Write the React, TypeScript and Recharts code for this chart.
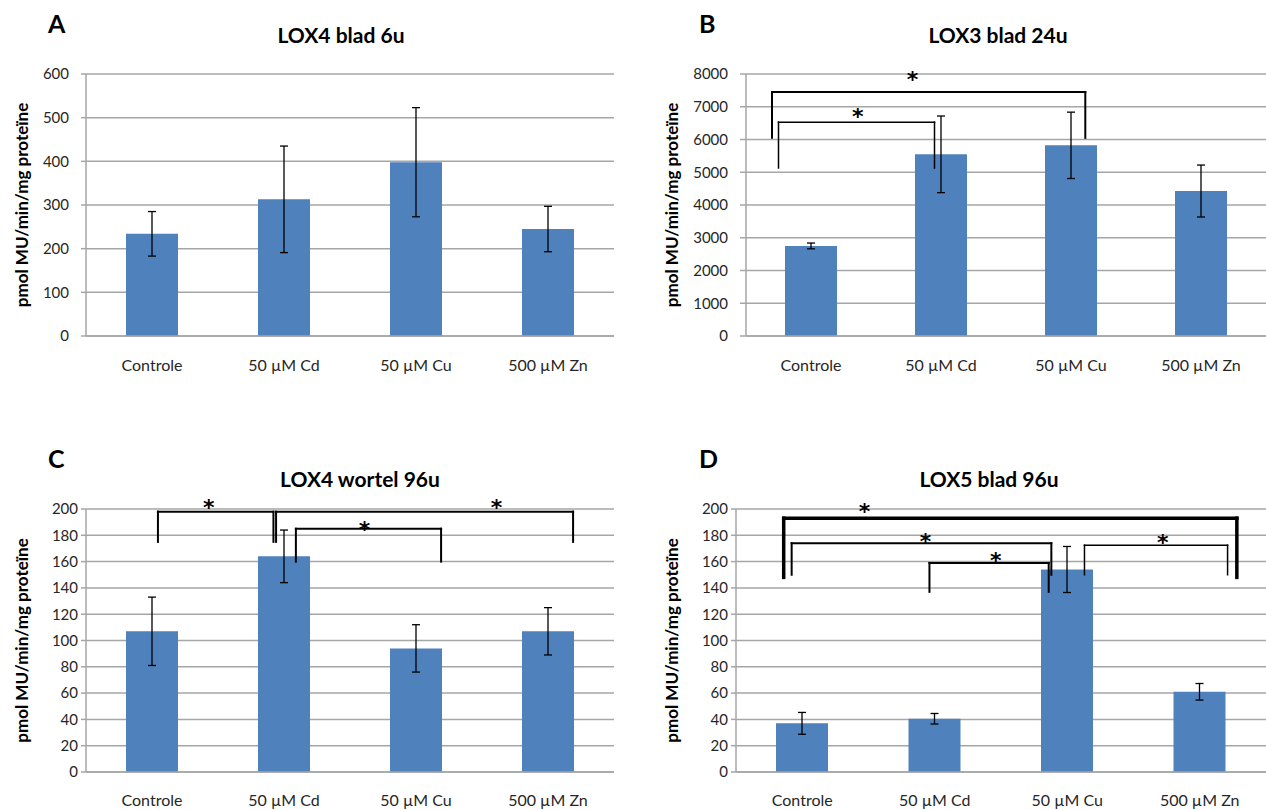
import React from "react";
import {
  BarChart,
  Bar,
  XAxis,
  YAxis,
  CartesianGrid,
  ErrorBar,
  ReferenceLine,
  ReferenceDot,
} from "recharts";

const categories = ["Controle", "50 µM Cd", "50 µM Cu", "500 µM Zn"];

// A - LOX4 blad 6u
const lox4Blad6u = [234, 313, 398, 245];
const lox4Blad6uErr = [51, 122, 125, 52];
const ticks600 = [0, 100, 200, 300, 400, 500, 600];

// B - LOX3 blad 24u
const lox3Blad24u = [2750, 5547, 5822, 4427];
const lox3Blad24uErr = [88, 1170, 1013, 793];
const ticks8000 = [0, 1000, 2000, 3000, 4000, 5000, 6000, 7000, 8000];

// C - LOX4 wortel 96u
const lox4Wortel96u = [107, 164, 94, 107];
const lox4Wortel96uErr = [26, 20, 18, 18];

// D - LOX5 blad 96u
const lox5Blad96u = [37, 40.5, 154, 61];
const lox5Blad96uErr = [8.3, 4, 17.5, 6.3];
const ticks200 = [0, 20, 40, 60, 80, 100, 120, 140, 160, 180, 200];

// significance brackets, x in category units (0..4), y in data units
// [leftX, rightX, top, leftBottom, rightBottom, starX, starY]
type Bracket = [number, number, number, number, number, number, number];

const bracketsB: Bracket[] = [
  [0.2, 2.61, 7450, 6050, 6050, 1.28, 7970],
  [0.25, 1.45, 6530, 5130, 5130, 0.86, 6840],
];
const bracketsC: Bracket[] = [
  [0.545, 1.42, 198, 175, 175, 0.93, 204.5],
  [1.44, 3.69, 198, 175, 175, 3.11, 204.5],
  [1.59, 2.69, 185, 160, 160, 2.11, 188],
];
const bracketsD: Bracket[] = [
  [0.36, 3.78, 193, 148, 148, 0.97, 201.5],
  [0.42, 2.38, 174, 150, 150, 1.43, 179],
  [1.46, 2.36, 159, 137, 137, 1.96, 164],
  [2.63, 3.71, 172.5, 150, 150, 3.22, 178],
];

const BLUE = "#4f81bd";
const GRID = "#a6a6a6";
const TEXT = "#262626";
const YLABEL = "pmol MU/min/mg proteïne";

type PanelProps = {
  left: number;
  top: number;
  width: number;
  height: number;
  margin: { top: number; right: number; bottom: number; left: number };
  yWidth: number;
  labelOffset: number;
  yTickSize: number;
  yTickMargin: number;
  xTickMargin: number;
  xHeight: number;
  ticks: number[];
  values: number[];
  errors: number[];
  brackets?: Bracket[];
  bracketStroke?: number[];
};

function Panel(p: PanelProps) {
  const data = categories.map((c, i) => ({
    name: c,
    pos: i + 0.5,
    value: p.values[i],
    err: p.errors[i],
  }));
  const max = p.ticks[p.ticks.length - 1];
  return (
    <div style={{ position: "absolute", left: p.left, top: p.top }}>
      <BarChart width={p.width} height={p.height} data={data} margin={p.margin}>
        <CartesianGrid vertical={false} stroke={GRID} strokeWidth={1.5} />
        <XAxis
          dataKey="name"
          interval={0}
          height={p.xHeight}
          tickLine={false}
          tickSize={0}
          tickMargin={p.xTickMargin}
          axisLine={{ stroke: GRID, strokeWidth: 1.5 }}
          tick={{ fill: TEXT, fontSize: 16 }}
        />
        <XAxis
          xAxisId="n"
          dataKey="pos"
          type="number"
          scale="linear"
          domain={[0, 4]}
          allowDataOverflow
          hide
        />
        <YAxis
          width={p.yWidth}
          domain={[0, max]}
          ticks={p.ticks}
          interval={0}
          tickSize={p.yTickSize}
          tickMargin={p.yTickMargin}
          tickLine={{ stroke: GRID, strokeWidth: 1.5 }}
          axisLine={{ stroke: GRID, strokeWidth: 1.5 }}
          tick={{ fill: TEXT, fontSize: 15 }}
          label={{
            value: YLABEL,
            angle: -90,
            position: "insideLeft",
            offset: p.labelOffset,
            style: { textAnchor: "middle", fontWeight: 700, fontSize: 17, fill: "#000" },
          }}
        />
        <Bar dataKey="value" fill={BLUE} barSize={52} isAnimationActive={false}>
          <ErrorBar dataKey="err" width={4} stroke="#000" strokeWidth={1.3} />
        </Bar>
        {(p.brackets || []).map((b, i) => {
          const w = p.bracketStroke ? p.bracketStroke[i] : 1.5;
          const [x1, x2, yt, yl, yr] = b;
          return [
            <ReferenceLine
              key={`l${i}`}
              xAxisId="n"
              segment={[{ x: x1, y: yl }, { x: x1, y: yt }]}
              stroke="#000"
              strokeWidth={w}
              strokeLinecap="square"
              ifOverflow="visible"
            />,
            <ReferenceLine
              key={`t${i}`}
              xAxisId="n"
              segment={[{ x: x1, y: yt }, { x: x2, y: yt }]}
              stroke="#000"
              strokeWidth={w}
              strokeLinecap="square"
              ifOverflow="visible"
            />,
            <ReferenceLine
              key={`r${i}`}
              xAxisId="n"
              segment={[{ x: x2, y: yt }, { x: x2, y: yr }]}
              stroke="#000"
              strokeWidth={w}
              strokeLinecap="square"
              ifOverflow="visible"
            />,
          ];
        })}
        {(p.brackets || []).map((b, i) => (
          <ReferenceDot
            key={`s${i}`}
            xAxisId="n"
            x={b[5]}
            y={b[6]}
            r={0}
            ifOverflow="visible"
            shape={(s: any) => (
              <text
                x={s.cx}
                y={s.cy + 12}
                textAnchor="middle"
                fontSize={22}
                fontWeight={700}
                fontFamily="DejaVu Sans"
                fill="#000"
              >
                *
              </text>
            )}
          />
        ))}
      </BarChart>
    </div>
  );
}

export default function App() {
  return (
    <div
      style={{
        position: "absolute",
        left: 0,
        top: 0,
        width: 1266,
        height: 810,
        overflow: "hidden",
        background: "#fff",
        fontFamily: "Lato, sans-serif",
      }}
    >
      <Panel
        left={0}
        top={0}
        width={640}
        height={400}
        margin={{ top: 74, right: 26, bottom: 24, left: 10 }}
        yWidth={76}
        labelOffset={12}
        yTickSize={5}
        yTickMargin={12}
        xTickMargin={24}
        xHeight={40}
        ticks={ticks600}
        values={lox4Blad6u}
        errors={lox4Blad6uErr}
      />
      <Panel
        left={640}
        top={0}
        width={626}
        height={400}
        margin={{ top: 74, right: 0, bottom: 24, left: 10 }}
        yWidth={96}
        labelOffset={22}
        yTickSize={6}
        yTickMargin={12}
        xTickMargin={24}
        xHeight={40}
        ticks={ticks8000}
        values={lox3Blad24u}
        errors={lox3Blad24uErr}
        brackets={bracketsB}
        bracketStroke={[2, 1.5]}
      />
      <Panel
        left={0}
        top={400}
        width={640}
        height={410}
        margin={{ top: 109, right: 26, bottom: 8, left: 10 }}
        yWidth={76}
        labelOffset={12}
        yTickSize={5}
        yTickMargin={3}
        xTickMargin={23}
        xHeight={30}
        ticks={ticks200}
        values={lox4Wortel96u}
        errors={lox4Wortel96uErr}
        brackets={bracketsC}
        bracketStroke={[2, 2, 2]}
      />
      <Panel
        left={640}
        top={400}
        width={626}
        height={410}
        margin={{ top: 109, right: 0, bottom: 8, left: 10 }}
        yWidth={86}
        labelOffset={22}
        yTickSize={5}
        yTickMargin={3}
        xTickMargin={23}
        xHeight={30}
        ticks={ticks200}
        values={lox5Blad96u}
        errors={lox5Blad96uErr}
        brackets={bracketsD}
        bracketStroke={[3.5, 2, 2, 1.5]}
      />
      <svg
        width={1266}
        height={810}
        style={{ position: "absolute", left: 0, top: 0, pointerEvents: "none" }}
      >
        <g fontWeight={700} fill="#000">
          <text x={48} y={33} fontSize={25}>A</text>
          <text x={341} y={43} fontSize={21} textAnchor="middle">LOX4 blad 6u</text>
          <text x={699} y={33} fontSize={25}>B</text>
          <text x={998} y={43} fontSize={21} textAnchor="middle">LOX3 blad 24u</text>
          <text x={48} y={468} fontSize={25}>C</text>
          <text x={360} y={487} fontSize={21} textAnchor="middle">LOX4 wortel 96u</text>
          <text x={699} y={468} fontSize={25}>D</text>
          <text x={989} y={487} fontSize={21} textAnchor="middle">LOX5 blad 96u</text>
        </g>
      </svg>
    </div>
  );
}
